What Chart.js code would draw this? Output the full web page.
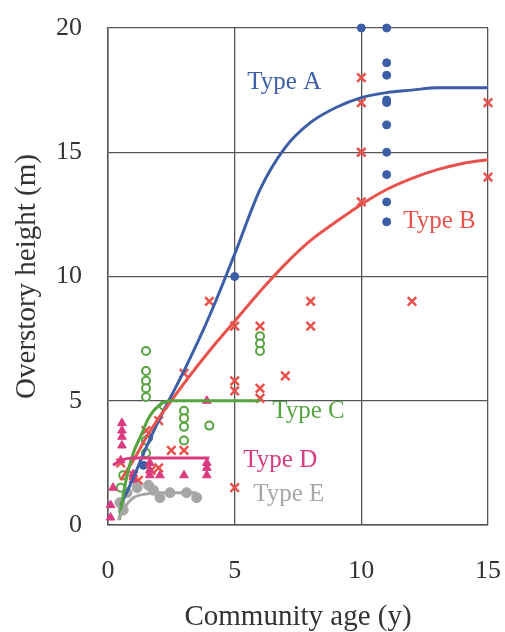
<!DOCTYPE html>
<html>
<head>
<meta charset="utf-8">
<script src="https://cdn.jsdelivr.net/npm/chart.js@4/dist/chart.umd.min.js"></script>
<style>
  html, body { margin: 0; padding: 0; background: #fff; }
  #wrap { width: 505px; height: 632px; }
</style>
</head>
<body>
<div id="wrap"><canvas id="chart"></canvas></div>
<script>
// fitted curves
var curveX = [0.5, 1, 1.5, 2, 2.5, 3, 4, 5, 6, 7, 8, 9, 10, 11, 12, 13, 14, 15];
var typeACurve = [0.8, 1.9, 3.1, 4.2, 5.2, 6.2, 8.4, 10.9, 13.5, 15.2, 16.2, 16.8, 17.2, 17.4, 17.5, 17.6, 17.6, 17.6];
var typeBCurve = [1.8, 2.6, 3.5, 4.3, 5.0, 5.7, 7.0, 8.2, 9.4, 10.5, 11.45, 12.2, 12.9, 13.5, 13.95, 14.3, 14.55, 14.7];
var typeCCurveX = [0.45, 0.6, 0.8, 1.0, 1.3, 1.6, 2.0, 2.5, 3, 4, 5, 6];
var typeCCurve = [0.2, 1.2, 2.2, 2.9, 3.6, 4.3, 4.8, 5.0, 5.0, 5.0, 5.0, 5.0];
var typeDCurveX = [0.2, 0.5, 1, 2, 3, 4];
var typeDCurve = [2.4, 2.6, 2.7, 2.7, 2.7, 2.7];
var typeECurveX = [0.4, 0.6, 0.8, 1.0, 1.5, 2.0, 2.5, 3.0, 3.5];
var typeECurve = [0.2, 0.6, 0.9, 1.1, 1.25, 1.3, 1.3, 1.3, 1.3];

// observed stands
var typeAX = [1.4, 1.6, 5, 10, 11, 11, 11, 11, 11, 11, 11, 11, 11, 11];
var typeAY = [2.4, 3.5, 10, 20, 20, 18.6, 18.1, 17.1, 16.1, 15.0, 14.1, 13.0, 12.2, 17.0];
var typeBX = [10, 10, 10, 10, 15, 15, 12, 8, 8, 7, 6, 6, 6, 5, 5, 5, 5, 4, 3, 2.5, 3, 2, 1.5, 1, 1.2, 0.5, 2, 1.7];
var typeBY = [18, 17, 15, 13, 17, 14, 9, 9, 8, 6, 8, 5.5, 5.1, 8, 5.8, 5.4, 1.5, 9, 6.1, 3, 3, 4.2, 3.8, 2, 1.8, 2.5, 2.3, 2.2];
var typeCX = [1.5, 1.5, 1.5, 1.5, 1.5, 1.5, 1.5, 3, 3, 3, 3, 4, 6, 6, 6, 0.5, 0.6, 2.2];
var typeCY = [7.0, 6.2, 5.8, 5.5, 5.15, 3.4, 2.9, 4.6, 4.3, 3.95, 3.4, 4.0, 7.6, 7.3, 7.0, 1.5, 2.0, 4.8];
var typeDX = [0.55, 0.55, 0.55, 0.55, 0.5, 1.0, 1.0, 1.65, 1.65, 1.65, 2.05, 3.0, 3.9, 3.9, 3.9, 0.1, 0.1, 0.2, 3.9];
var typeDY = [4.1, 3.8, 3.55, 3.2, 2.6, 2.05, 1.8, 2.5, 2.2, 2.0, 2.0, 2.0, 2.5, 2.3, 2.0, 0.3, 0.8, 1.5, 5.0];
var typeEX = [0.47, 0.6, 0.75, 1.15, 1.6, 1.8, 2.05, 2.45, 3.1, 3.5];
var typeEY = [0.9, 0.6, 1.3, 1.5, 1.6, 1.4, 1.1, 1.3, 1.3, 1.1];

var typeNames = ['Type A', 'Type B', 'Type C', 'Type D', 'Type E'];
var xTicks = [0, 5, 10, 15];
var yTicks = [0, 5, 10, 15, 20];

var colA = '#3b5ea6', colB = '#e8524c', colC = '#55a43f', colD = '#d93a80', colE = '#a6a6a6';

function pts(xs, ys) {
    return xs.map(function (x, i) { return {x: x, y: ys[i]}; });
}

function curve(xs, ys, col) {
    return {
        data: pts(xs, ys), showLine: true, borderColor: col, borderWidth: 3,
        pointRadius: 0, cubicInterpolationMode: 'monotone', fill: false, clip: false
    };
}

var serif = "'Liberation Serif', 'DejaVu Serif', serif";

// where each type name sits (data units, left edge / middle)
var labelAt = [[5.5, 17.8], [11.65, 12.2], [6.48, 4.55], [5.34, 2.58], [5.73, 1.25]];
var labelCol = [colA, colB, colC, colD, colE];

var typeLabels = {
    id: 'typeLabels',
    afterDatasetsDraw: function (chart) {
        var c = chart.ctx, sx = chart.scales.x, sy = chart.scales.y;
        c.save();
        c.font = '25px ' + serif;
        c.textAlign = 'left';
        c.textBaseline = 'middle';
        typeNames.forEach(function (t, i) {
            c.fillStyle = labelCol[i];
            c.fillText(t, sx.getPixelForValue(labelAt[i][0]), sy.getPixelForValue(labelAt[i][1]));
        });
        c.restore();
    }
};

var ctx = document.getElementById('chart').getContext('2d');
var myChart = new Chart(ctx, {
    type: 'scatter',
    data: {
        datasets: [
            curve(typeECurveX, typeECurve, colE),
            curve(typeDCurveX, typeDCurve, colD),
            curve(typeCCurveX, typeCCurve, colC),
            curve(curveX, typeBCurve, colB),
            curve(curveX, typeACurve, colA),
            {data: pts(typeEX, typeEY), pointStyle: 'circle', pointRadius: 5, backgroundColor: colE, borderColor: colE, borderWidth: 1, clip: false},
            {data: pts(typeDX, typeDY), pointStyle: 'triangle', pointRadius: 5, backgroundColor: colD, borderColor: colD, borderWidth: 1, clip: false},
            {data: pts(typeCX, typeCY), pointStyle: 'circle', pointRadius: 4, backgroundColor: '#fff', borderColor: colC, borderWidth: 2, clip: false},
            {data: pts(typeBX, typeBY), pointStyle: 'crossRot', pointRadius: 6, borderColor: colB, borderWidth: 2.5, clip: false},
            {data: pts(typeAX, typeAY), pointStyle: 'circle', pointRadius: 4, backgroundColor: colA, borderColor: colA, borderWidth: 1, clip: false}
        ]
    },
    options: {
        responsive: true,
        maintainAspectRatio: false,
        animation: false,
        layout: {padding: {top: 28, right: 17, bottom: 0, left: 0}},
        scales: {
            x: {
                type: 'linear', min: 0, max: 15,
                afterFit: function (s) { s.height = 107; s.paddingLeft = 0; s.paddingRight = 0; },
                afterBuildTicks: function (s) { s.ticks = xTicks.map(function (v) { return {value: v}; }); },
                grid: {color: '#555', lineWidth: 1.3, drawTicks: false},
                border: {color: '#555', width: 1.5},
                ticks: {color: '#333', padding: 31, font: {family: serif, size: 26}},
                title: {display: true, text: 'Community age (y)', color: '#333', padding: 0,
                        font: {family: serif, size: 29, lineHeight: 1}}
            },
            y: {
                type: 'linear', min: 0, max: 20,
                afterFit: function (s) { s.width = 108; s.paddingTop = 0; s.paddingBottom = 0; },
                afterBuildTicks: function (s) { s.ticks = yTicks.map(function (v) { return {value: v}; }); },
                grid: {color: '#555', lineWidth: 1.3, drawTicks: false},
                border: {color: '#555', width: 1.5},
                ticks: {color: '#333', padding: 26, font: {family: serif, size: 26}},
                title: {display: true, text: 'Overstory height (m)', color: '#333', padding: {top: 13, bottom: 0},
                        font: {family: serif, size: 29, lineHeight: 1}}
            }
        },
        plugins: {
            legend: {display: false},
            tooltip: {enabled: false}
        }
    },
    plugins: [typeLabels]
});
</script>
</body>
</html>
